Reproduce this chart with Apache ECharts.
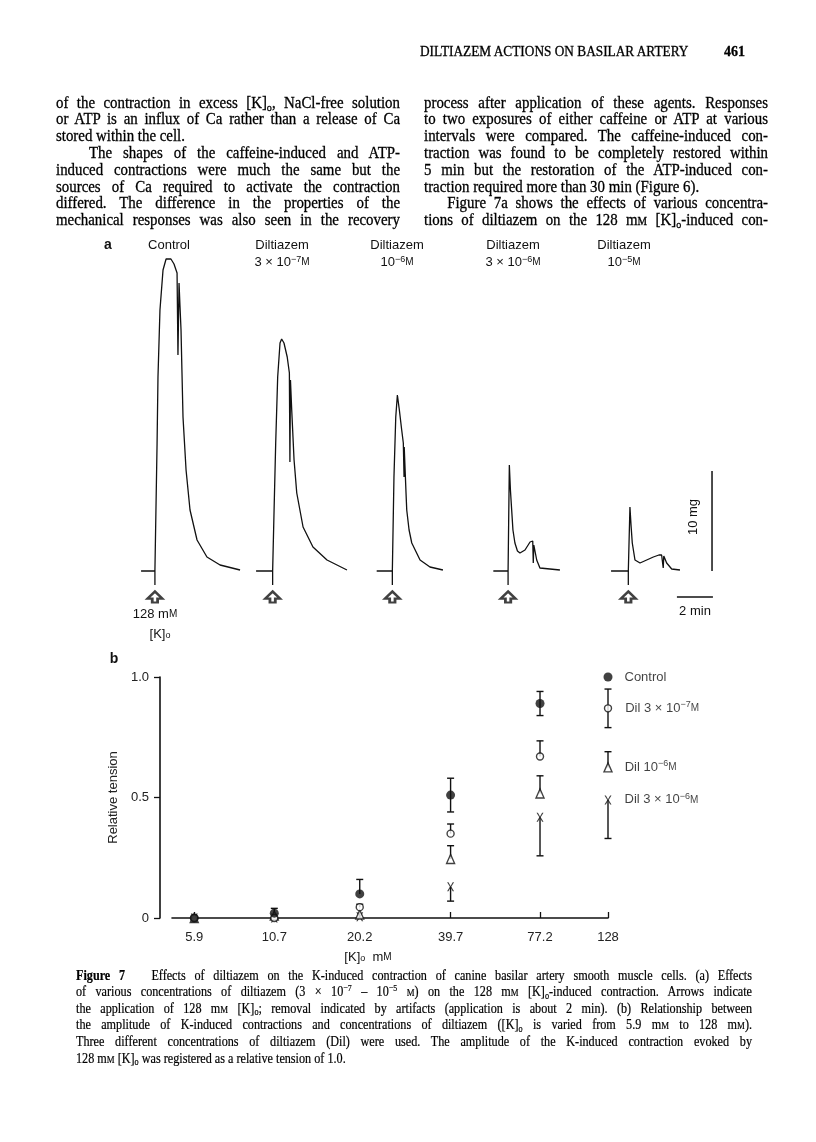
<!DOCTYPE html>
<html><head><meta charset="utf-8">
<script src="https://cdn.jsdelivr.net/npm/echarts@6/dist/echarts.min.js"></script>
<style>
html,body{margin:0;padding:0;background:#fff}
#page{position:relative;width:816px;height:1142px;overflow:hidden;background:#fff}
#chart{position:absolute;left:0;top:0;width:816px;height:1142px}
.ln{position:absolute;white-space:nowrap;font-family:'Liberation Serif','Times New Roman',serif;color:#000;text-align:justify;text-align-last:justify;line-height:17px;height:17px;transform-origin:0 50%;-webkit-text-stroke:0.3px #000}
.ln.nj{text-align-last:left}
.sub{font-size:68%;position:relative;top:0.28em;line-height:0}
.sc{font-size:72%}
.sup{font-size:66%;position:relative;top:-0.5em;line-height:0}
</style></head>
<body><div id="page"><div id="chart"></div></div>
<script>
// ---------------- DATA ----------------
// Panel b: [K]o concentrations (mM) and relative tension (mean, error up, error down)
const kValues = [5.9, 10.7, 20.2, 39.7, 77.2, 128];
const kLabels = ['5.9', '10.7', '20.2', '39.7', '77.2', '128'];
const controlMean    = [0, 0.02, 0.10, 0.51, 0.89, 1.00];
const controlErrUp   = [0, 0.02, 0.06, 0.07, 0.05, 0];
const controlErrDown = [0, 0,    0,    0.07, 0.05, 0];
const dil3e7Mean     = [0, 0,    0.045, 0.35, 0.67, 0.87];
const dil3e7ErrUp    = [0, 0,    0.012, 0.04, 0.065, 0.08];
const dil3e7ErrDown  = [0, 0,    0,     0,    0,     0.08];
const dil1e6Mean     = [0, 0.01, 0.015, 0.245, 0.517, 0.625];
const dil1e6ErrUp    = [0, 0,    0,     0.055, 0.073, 0.065];
const dil1e6ErrDown  = [0, 0,    0,     0,     0,     0];
const dil3e6Mean     = [0, 0,    0.005, 0.13, 0.418, 0.49];
const dil3e6ErrUp    = [0, 0,    0,     0,    0,     0];
const dil3e6ErrDown  = [0, 0,    0,     0.06, 0.16,  0.16];

// Panel a: tension recordings, [time (min), tension (mg)]
const traceControl = [[1.17,0],[1.94,0],[1.94,-1.4],[1.94,0],[2.06,12.8],[2.11,19.4],[2.22,26.1],[2.39,30.1],[2.56,31.2],[2.67,31.3],[2.83,31.2],[3.0,30.7],[3.17,29.8],[3.22,21.6],[3.28,28.8],[3.33,26.6],[3.39,24.1],[3.44,20.1],[3.5,15.4],[3.67,10.1],[3.89,6.1],[4.28,3.1],[4.83,1.4],[5.56,0.6],[6.67,0.1]];
const traceDil3e7 = [[7.56,0],[8.48,0],[8.48,-1.4],[8.48,0],[8.56,6.1],[8.65,12.8],[8.76,19.4],[8.89,22.8],[8.98,23.2],[9.11,22.8],[9.29,21.4],[9.41,19.8],[9.44,10.9],[9.47,19.1],[9.54,16.1],[9.67,11.1],[9.82,7.8],[10.17,4.4],[10.72,2.4],[11.5,1.1],[12.61,0.1]];
const traceDil1e6 = [[14.26,0],[15.13,0],[15.13,-1.4],[15.13,0],[15.22,9.4],[15.32,15.4],[15.41,17.6],[15.52,16.1],[15.65,14.1],[15.74,12.8],[15.78,9.4],[15.79,12.4],[15.89,7.8],[15.93,6.1],[16.06,4.1],[16.21,2.8],[16.67,1.1],[17.22,0.4],[17.94,0.1]];
const traceDil3e6 = [[20.74,0],[21.56,0],[21.56,-1.4],[21.56,0],[21.63,10.6],[21.69,8.1],[21.76,6.1],[21.83,4.1],[21.94,2.8],[22.08,2.0],[22.22,1.8],[22.5,2.1],[22.78,2.9],[22.93,3.0],[22.96,0.8],[22.99,2.6],[23.15,1.1],[23.33,0.3],[24.44,0.1]];
const traceDil1e5 = [[27.28,0],[28.24,0],[28.24,-1.4],[28.24,0],[28.33,6.4],[28.39,4.6],[28.46,2.8],[28.61,1.1],[28.89,0.8],[29.26,1.1],[29.63,1.4],[29.94,1.6],[30.09,1.6],[30.18,0.3],[30.21,1.5],[30.37,0.8],[30.65,0.2],[31.11,0.1]];
const applicationTimes = [1.94, 8.48, 15.13, 21.56, 28.24];
const scaleBarMg = [[32.89, 0], [32.89, 10]];      // 10 mg
const scaleBarMin = [[30.94, -2.6], [32.94, -2.6]]; // 2 min

// Text
const headerText = 'DILTIAZEM ACTIONS ON BASILAR ARTERY';
const pageNumber = '461';
const leftLines = [
 ['of the contraction in excess [K]<span class="sub">o</span>, NaCl-free solution', 1],
 ['or ATP is an influx of Ca rather than a release of Ca', 1],
 ['stored within the cell.', 0],
 ['&nbsp;&nbsp;&nbsp;The shapes of the caffeine-induced and ATP-', 1],
 ['induced contractions were much the same but the', 1],
 ['sources of Ca required to activate the contraction', 1],
 ['differed. The difference in the properties of the', 1],
 ['mechanical responses was also seen in the recovery', 1]
];
const rightLines = [
 ['process after application of these agents. Responses', 1],
 ['to two exposures of either caffeine or ATP at various', 1],
 ['intervals were compared. The caffeine-induced con-', 1],
 ['traction was found to be completely restored within', 1],
 ['5 min but the restoration of the ATP-induced con-', 1],
 ['traction required more than 30 min (Figure 6).', 0],
 ['&nbsp;&nbsp;&nbsp;Figure 7a shows the effects of various concentra-', 1],
 ['tions of diltiazem on the 128 m<span class="sc">M</span> [K]<span class="sub">o</span>-induced con-', 1]
];
const captionLines = [
 ['<b>Figure 7</b>&nbsp;&nbsp; Effects of diltiazem on the K-induced contraction of canine basilar artery smooth muscle cells. (a) Effects', 1],
 ['of various concentrations of diltiazem (3 × 10<span class="sup">−7</span> – 10<span class="sup">−5</span> <span class="sc">M</span>) on the 128 m<span class="sc">M</span> [K]<span class="sub">o</span>-induced contraction. Arrows indicate', 1],
 ['the application of 128 m<span class="sc">M</span> [K]<span class="sub">o</span>; removal indicated by artifacts (application is about 2 min). (b) Relationship between', 1],
 ['the amplitude of K-induced contractions and concentrations of diltiazem ([K]<span class="sub">o</span> is varied from 5.9 m<span class="sc">M</span> to 128 m<span class="sc">M</span>).', 1],
 ['Three different concentrations of diltiazem (Dil) were used. The amplitude of the K-induced contraction evoked by', 1],
 ['128 m<span class="sc">M</span> [K]<span class="sub">o</span> was registered as a relative tension of 1.0.', 0]
];

// ---------------- HTML TEXT ----------------
const page = document.getElementById('page');
function addLine(html, x, yc, w, fs, justify, sx, extra) {
  const d = document.createElement('div');
  d.className = 'ln' + (justify ? '' : ' nj');
  d.style.left = x + 'px';
  d.style.top = (yc - 8.5) + 'px';
  d.style.width = (w / sx) + 'px';
  d.style.fontSize = fs + 'px';
  d.style.transform = 'scaleX(' + sx + ')';
  if (extra) Object.assign(d.style, extra);
  d.innerHTML = html;
  page.appendChild(d);
}
leftLines.forEach((l, i) => addLine(l[0], 56, 102 + 16.8 * i, 344, 16, l[1], 0.93));
rightLines.forEach((l, i) => addLine(l[0], 424, 102 + 16.8 * i, 344, 16, l[1], 0.93));
captionLines.forEach((l, i) => addLine(l[0], 76, 975 + 16.6 * i, 676, 14, l[1], 0.87, {WebkitTextStroke: '0.2px #000'}));
addLine(headerText, 420, 51, 300, 14, 0, 0.95);
addLine('<b>' + pageNumber + '</b>', 724, 51, 40, 14, 0, 1);

// ---------------- CHART ----------------
const chart = echarts.init(document.getElementById('chart'), null, {renderer: 'canvas'});
const INK = '#111';
const SANS = '"Liberation Sans", Arial, sans-serif';
const PX_PER_MIN = 18, GRID_A_W = 600;

function errData(mean, up, down) {
  const out = [];
  kValues.forEach((k, i) => {
    if (up[i] > 0 || down[i] > 0) out.push([k, mean[i] - down[i], mean[i] + up[i], mean[i]]);
  });
  return out;
}
function errRender(params, api) {
  const x = api.value(0), lo = api.value(1), hi = api.value(2), m = api.value(3);
  const pLo = api.coord([x, lo]), pHi = api.coord([x, hi]);
  const st = {stroke: INK, lineWidth: 1.4};
  const ch = [{type: 'line', shape: {x1: pLo[0], y1: pLo[1], x2: pHi[0], y2: pHi[1]}, style: st}];
  if (hi > m) ch.push({type: 'line', shape: {x1: pHi[0] - 3.5, y1: pHi[1], x2: pHi[0] + 3.5, y2: pHi[1]}, style: st});
  if (lo < m) ch.push({type: 'line', shape: {x1: pLo[0] - 3.5, y1: pLo[1], x2: pLo[0] + 3.5, y2: pLo[1]}, style: st});
  return {type: 'group', children: ch};
}
function errSeries(mean, up, down) {
  return {type: 'custom', xAxisIndex: 1, yAxisIndex: 1, renderItem: errRender,
    data: errData(mean, up, down), encode: {x: 0, y: [1, 2]}, silent: true, z: 2};
}
const richLbl = {
  s: {fontSize: 9, fontFamily: SANS, color: INK, verticalAlign: 'top', lineHeight: 9},
  m: {fontSize: 10, fontFamily: SANS, color: INK},
  o: {fontSize: 9, fontFamily: SANS, color: INK, verticalAlign: 'bottom', lineHeight: 9}
};
function pointSeries(mean, symbol, size, style, labelText, dist) {
  return {
    type: 'scatter', xAxisIndex: 1, yAxisIndex: 1, symbol: symbol, symbolSize: size,
    itemStyle: style, z: 5, silent: true,
    data: kValues.map((k, i) => i === kValues.length - 1 ? {
      value: [k, mean[i]],
      label: {show: true, position: 'right', distance: dist, formatter: labelText,
        fontFamily: SANS, fontSize: 13, color: INK, lineHeight: 16, rich: richLbl}
    } : [k, mean[i]])
  };
}
function trace(d) {
  return {type: 'line', xAxisIndex: 0, yAxisIndex: 0, data: d, showSymbol: false, symbol: 'none',
    lineStyle: {color: INK, width: 1.3}, silent: true, z: 3};
}
function gtext(text, x, y, opts) {
  return Object.assign({type: 'text', x: x, y: y, silent: true, style: Object.assign({
    text: text, font: '13px ' + SANS, fill: INK, align: 'center', verticalAlign: 'middle',
    textAlign: 'center', textVerticalAlign: 'middle', rich: richLbl}, (opts && opts.style) || {})},
    opts && opts.rotation !== undefined ? {rotation: opts.rotation} : {});
}

const option = {
  animation: false,
  backgroundColor: 'transparent',
  grid: [
    {left: 120, top: 251, width: GRID_A_W, height: 360},
    {left: 172, top: 677, width: 436, height: 241}
  ],
  xAxis: [
    {gridIndex: 0, type: 'value', min: 0, max: GRID_A_W / PX_PER_MIN, show: false},
    {gridIndex: 1, type: 'log', logBase: 10, min: 5, max: 128,
      axisLine: {show: true, lineStyle: {color: INK, width: 1.6}},
      axisTick: {show: true, inside: true, length: 6, customValues: kValues, lineStyle: {color: INK, width: 1.3}},
      axisLabel: {show: true, customValues: kValues, margin: 13, fontFamily: SANS, fontSize: 13, color: '#222',
        formatter: v => { const i = kValues.findIndex(k => Math.abs(k - v) < 1e-6); return i >= 0 ? kLabels[i] : ''; }},
      splitLine: {show: false}, minorTick: {show: false}}
  ],
  yAxis: [
    {gridIndex: 0, type: 'value', min: -4, max: 32, show: false},
    {gridIndex: 1, type: 'value', min: 0, max: 1, interval: 0.5, offset: 12,
      axisLine: {show: true, lineStyle: {color: INK, width: 1.6}},
      axisTick: {show: true, length: 6, lineStyle: {color: INK, width: 1.3}},
      axisLabel: {fontFamily: SANS, fontSize: 13, color: '#222', margin: 11,
        formatter: v => v === 0 ? '0' : v.toFixed(1)},
      splitLine: {show: false},
      name: 'Relative tension', nameLocation: 'middle', nameGap: 36,
      nameTextStyle: {fontFamily: SANS, fontSize: 13, color: '#222'}}
  ],
  series: [
    trace(traceControl), trace(traceDil3e7), trace(traceDil1e6), trace(traceDil3e6), trace(traceDil1e5),
    {type: 'line', xAxisIndex: 0, yAxisIndex: 0, data: scaleBarMg, symbol: 'none', lineStyle: {color: INK, width: 1.5}, silent: true},
    {type: 'line', xAxisIndex: 0, yAxisIndex: 0, data: scaleBarMin, symbol: 'none', lineStyle: {color: INK, width: 1.5}, silent: true},
    {type: 'scatter', xAxisIndex: 0, yAxisIndex: 0, data: applicationTimes.map(t => [t, -2.6]),
      symbol: 'path://M7,0 L14,6.5 L9.5,6.5 L9.5,10 L4.5,10 L4.5,6.5 L0,6.5 Z', symbolSize: [15, 11],
      itemStyle: {color: '#fff', borderColor: INK, borderWidth: 2.4}, silent: true, z: 4},
    errSeries(controlMean, controlErrUp, controlErrDown),
    errSeries(dil3e7Mean, dil3e7ErrUp, dil3e7ErrDown),
    errSeries(dil1e6Mean, dil1e6ErrUp, dil1e6ErrDown),
    errSeries(dil3e6Mean, dil3e6ErrUp, dil3e6ErrDown),
    pointSeries(dil3e6Mean, 'path://M0,0 L2,0 L5,4.2 L8,0 L10,0 L6,5 L10,10 L8,10 L5,5.8 L2,10 L0,10 L4,5 Z', [7, 9],
      {color: INK}, 'Dil 3 × 10{s|−6}{m|M}', 13),
    pointSeries(dil1e6Mean, 'triangle', [8, 9], {color: '#fff', borderColor: INK, borderWidth: 1.4}, 'Dil 10{s|−6}{m|M}', 12),
    pointSeries(dil3e7Mean, 'circle', 7, {color: '#fff', borderColor: INK, borderWidth: 1.4}, 'Dil 3 × 10{s|−7}{m|M}', 13),
    pointSeries(controlMean, 'circle', 9, {color: INK}, 'Control', 12)
  ],
  graphic: [
    gtext('a', 108, 245, {style: {font: 'bold 14px ' + SANS}}),
    gtext('Control', 169, 245),
    gtext('Diltiazem', 282, 245), gtext('3 × 10{s|−7}{m|M}', 282, 262),
    gtext('Diltiazem', 397, 245), gtext('10{s|−6}{m|M}', 397, 262),
    gtext('Diltiazem', 513, 245), gtext('3 × 10{s|−6}{m|M}', 513, 262),
    gtext('Diltiazem', 624, 245), gtext('10{s|−5}{m|M}', 624, 262),
    gtext('128 m{m|M}', 155, 614),
    gtext('[K]{o|o}', 160, 634),
    gtext('10 mg', 693, 517, {rotation: Math.PI / 2}),
    gtext('2 min', 695, 611),
    gtext('b', 114, 659, {style: {font: 'bold 14px ' + SANS}}),
    gtext('[K]{o|o}  m{m|M}', 368, 957)
  ]
};
chart.setOption(option);
</script>
</body></html>
